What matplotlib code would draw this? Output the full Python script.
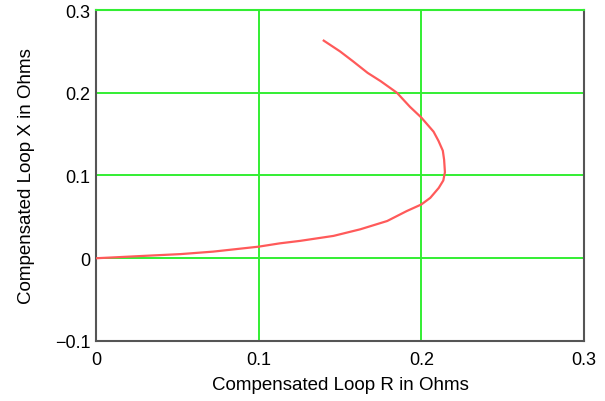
import matplotlib
matplotlib.use("Agg")
import matplotlib.pyplot as plt

plt.rcParams['font.family'] = ['Liberation Sans', 'DejaVu Sans']

# curve (R, X in ohms)
loop_r = [0.0, 0.0107, 0.031, 0.052, 0.072, 0.100, 0.113, 0.1255, 0.146, 0.1625,
          0.179, 0.191, 0.200, 0.2055, 0.2107, 0.2135, 0.2145, 0.214, 0.2132, 0.2105,
          0.2075, 0.200, 0.193, 0.185, 0.175, 0.167, 0.158, 0.150, 0.140]
loop_x = [0.0, 0.001, 0.003, 0.005, 0.008, 0.014, 0.018, 0.021, 0.027, 0.035,
          0.045, 0.057, 0.065, 0.073, 0.085, 0.094, 0.104, 0.119, 0.130, 0.142,
          0.153, 0.170, 0.183, 0.200, 0.214, 0.224, 0.238, 0.250, 0.263]

x_ticks = [0, 0.1, 0.2, 0.3]
y_ticks = [-0.1, 0, 0.1, 0.2, 0.3]
x_labels = ["0", "0.1", "0.2", "0.3"]
y_labels = ["\u22120.1", "0", "0.1", "0.2", "0.3"]

fig = plt.figure(figsize=(6.05, 4.02), dpi=100)
ax = fig.add_axes([0.1587, 0.1493, 0.8066, 0.8233])

ax.plot(loop_r, loop_x, color="#ff5a5a", lw=1.6, zorder=3)

ax.set_xlim(0, 0.3)
ax.set_ylim(-0.1, 0.3)
ax.set_xticks(x_ticks)
ax.set_xticklabels(x_labels)
ax.set_yticks(y_ticks)
ax.set_yticklabels(y_labels)
ax.tick_params(length=0, labelsize=13)
ax.tick_params(axis="x", pad=7)
ax.tick_params(axis="y", pad=4)
ax.grid(True, color="#33ee33", lw=1.4)
ax.set_axisbelow(True)
for s in ax.spines.values():
    s.set_color("#555555")
    s.set_linewidth(1.5)
ax.spines["top"].set_color("#33ee33")

ax.set_xlabel("Compensated Loop R in Ohms", fontsize=13.5)
ax.set_ylabel("Compensated Loop X in Ohms", fontsize=13.5)
ax.xaxis.label.set_va("center")
ax.yaxis.label.set_va("center")
ax.xaxis.set_label_coords(0.5, -0.130)
ax.yaxis.set_label_coords(-0.143, 0.5)

fig.savefig("out.png", dpi=100)
